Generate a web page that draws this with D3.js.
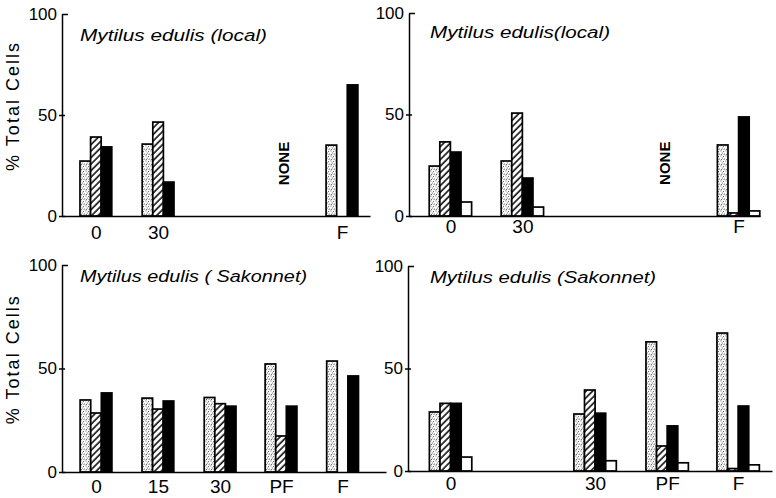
<html>
<head>
<script src="https://cdnjs.cloudflare.com/ajax/libs/d3/7.8.5/d3.min.js"></script>
<style>
  body { margin: 0; background: #fff; }
  svg { font-family: "Liberation Sans", Arial, sans-serif; }
  .tick text { fill: #000; }
  .title { font-style: italic; font-size: 16px; }
  .ylab { font-size: 18px; }
  .none { font-size: 15px; font-weight: 600; }
</style>
</head>
<body>
<script>
// series order inside each group: stippled, hatched, black, open
var tlCats = ["0", "30", "F"];
var tlPos = [11.0, 31.2, 90.9];
var tlStip = [27.2, 35.6, 35.1];
var tlHatch = [39.1, 46.5, 0];
var tlBlack = [34.2, 16.8, 64.9];

var trCats = ["0", "30", "F"];
var trPos = [11.8, 32.3, 93.9];
var trStip = [24.6, 27.1, 35.0];
var trHatch = [36.5, 50.7, 1.5];
var trBlack = [31.5, 18.7, 48.8];
var trOpen = [6.9, 4.4, 2.5];

var blCats = ["0", "15", "30", "PF", "F"];
var blPos = [10.5, 29.6, 48.8, 67.6, 86.6];
var blStip = [34.8, 35.7, 36.0, 52.2, 53.6];
var blHatch = [28.5, 30.4, 33.0, 17.4, 0];
var blBlack = [38.2, 34.3, 31.8, 31.8, 46.4];

var brCats = ["0", "30", "PF", "F"];
var brPos = [11.7, 51.4, 71.2, 90.7];
var brStip = [28.8, 27.8, 63.0, 67.3];
var brHatch = [33.0, 39.5, 12.2, 1.2];
var brBlack = [33.0, 28.2, 22.0, 31.7];
var brOpen = [6.8, 5.0, 4.0, 3.0];

var yTicks = [0, 50, 100];
var barW = 10.6;

var svg = d3.select("body").append("svg")
    .attr("width", 776)
    .attr("height", 498);

var defs = svg.append("defs");

// stipple
var stip = defs.append("pattern")
    .attr("id", "stip")
    .attr("patternUnits", "userSpaceOnUse")
    .attr("width", 5).attr("height", 5);
stip.append("rect").attr("width", 5).attr("height", 5).attr("fill", "#fff");
[[0.5, 0.5], [3, 1.2], [1.8, 2.6], [4.2, 3.6], [0.9, 4.1], [2.9, 4.6]].forEach(function(p) {
    stip.append("rect").attr("x", p[0]).attr("y", p[1])
        .attr("width", 0.9).attr("height", 0.9).attr("fill", "#333");
});

// diagonal hatch
var hatch = defs.append("pattern")
    .attr("id", "hatch")
    .attr("patternUnits", "userSpaceOnUse")
    .attr("width", 4.6).attr("height", 4.6)
    .attr("patternTransform", "rotate(45)");
hatch.append("rect").attr("width", 4.6).attr("height", 4.6).attr("fill", "#fff");
hatch.append("line").attr("x1", 1).attr("x2", 1).attr("y1", 0).attr("y2", 4.6)
    .attr("stroke", "#000").attr("stroke-width", 1.5);

var fills = ["url(#stip)", "url(#hatch)", "#000", "#fff"];

function drawPanel(p) {
    var g = svg.append("g");

    var x = d3.scaleLinear().domain([0, 100]).range([p.x0, p.x1]);
    var y = d3.scaleLinear().domain([0, 100]).range([p.yBase, p.yTop]);

    var n = p.series.length;

    p.cats.forEach(function(c, i) {
        var left = x(p.pos[i]) - n * barW / 2;
        p.series.forEach(function(s, k) {
            var v = s[i];
            if (!v) return;
            g.append("rect")
                .attr("x", left + k * barW)
                .attr("y", y(v))
                .attr("width", barW)
                .attr("height", y(0) - y(v))
                .attr("fill", fills[k])
                .attr("stroke", "#000")
                .attr("stroke-width", 1.7);
        });
    });

    // y axis
    var ya = g.append("g")
        .attr("transform", "translate(" + p.x0 + ",0)")
        .call(d3.axisLeft(y).tickValues(yTicks).tickSize(3).tickSizeOuter(0).tickPadding(2));
    ya.select(".domain").attr("stroke-width", 1.5);
    ya.selectAll(".tick line").attr("stroke-width", 1.5)
        .attr("x2", function(d) { return d === 100 ? 6 : 3; })
        .attr("x1", function(d) { return d === 100 ? 0 : -3; });
    ya.selectAll(".tick text").attr("font-size", 17).attr("font-family", "Liberation Sans, Arial, sans-serif");

    // x axis
    var xa = g.append("g")
        .attr("transform", "translate(0," + p.yBase + ")")
        .call(d3.axisBottom(x).tickValues(p.pos)
            .tickFormat(function(d, i) { return p.cats[i]; })
            .tickSize(0).tickSizeOuter(0).tickPadding(p.labPad));
    xa.select(".domain").attr("stroke-width", 1.5);
    xa.selectAll(".tick text").attr("font-size", 19).attr("font-family", "Liberation Sans, Arial, sans-serif");

    g.append("text")
        .attr("class", "title")
        .attr("x", p.titleX)
        .attr("y", p.titleY)
        .attr("textLength", p.titleW)
        .attr("lengthAdjust", "spacingAndGlyphs")
        .text(p.title);

    if (p.none) {
        g.append("text")
            .attr("class", "none")
            .attr("text-anchor", "middle")
            .attr("dominant-baseline", "central")
            .attr("transform", "translate(" + x(p.none) + "," + y(26) + ") rotate(-90)")
            .text("NONE");
    }

    if (p.ylab) {
        g.append("text")
            .attr("class", "ylab")
            .attr("text-anchor", "middle")
            .attr("transform", "translate(19," + y(54) + ") rotate(-90)")
            .attr("textLength", 128)
            .attr("lengthAdjust", "spacing")
            .text("% Total Cells");
    }
}

drawPanel({ cats: tlCats, pos: tlPos, series: [tlStip, tlHatch, tlBlack],
    x0: 62, x1: 370, yTop: 14, yBase: 216, labPad: 10,
    title: "Mytilus edulis (local)", titleX: 80, titleY: 41, titleW: 187,
    none: 71.8, ylab: true });

drawPanel({ cats: trCats, pos: trPos, series: [trStip, trHatch, trBlack, trOpen],
    x0: 409, x1: 760, yTop: 13, yBase: 216, labPad: 4,
    title: "Mytilus edulis(local)", titleX: 430, titleY: 38, titleW: 180,
    none: 72.9, ylab: false });

drawPanel({ cats: blCats, pos: blPos, series: [blStip, blHatch, blBlack],
    x0: 62, x1: 386, yTop: 265, yBase: 472, labPad: 8,
    title: "Mytilus edulis ( Sakonnet)", titleX: 80, titleY: 282, titleW: 227,
    none: 0, ylab: true });

drawPanel({ cats: brCats, pos: brPos, series: [brStip, brHatch, brBlack, brOpen],
    x0: 408, x1: 772, yTop: 266, yBase: 471, labPad: 6,
    title: "Mytilus edulis (Sakonnet)", titleX: 430, titleY: 283, titleW: 226,
    none: 0, ylab: false });
</script>
</body>
</html>
